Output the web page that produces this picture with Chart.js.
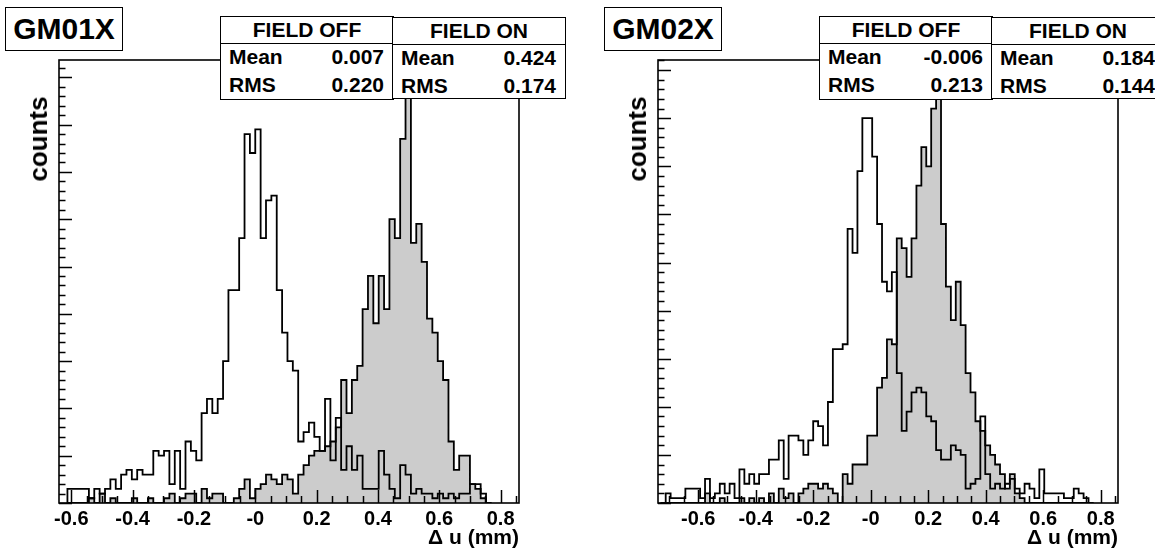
<!DOCTYPE html>
<html>
<head>
<meta charset="utf-8">
<script src="https://cdn.jsdelivr.net/npm/chart.js@4.4.1/dist/chart.umd.min.js"></script>
<style>
  body { margin: 0; width: 1155px; height: 551px; overflow: hidden; background: #fff; position: relative;
         font-family: "Liberation Sans", Arial, Helvetica, sans-serif; font-weight: bold; color: #000; }
  canvas { position: absolute; top: 0; }
  .title { position: absolute; box-sizing: border-box; border: 1.5px solid #000; background: #fff;
           font-size: 30px; line-height: 41px; text-align: center; }
  .stat { position: absolute; box-sizing: border-box; border: 1.5px solid #000; background: #fff; font-size: 21px; }
  .stat .hd { position: absolute; left: 0; right: 0; top: 0; height: 26px; border-bottom: 1.5px solid #000;
              text-align: center; line-height: 26px; }
  .stat .lab { position: absolute; left: 8px; line-height: 24px; }
  .stat .val { position: absolute; right: 9px; line-height: 24px; }
  .ylab { position: absolute; font-size: 26px; line-height: 30px; white-space: nowrap;
          transform: translate(-50%, -50%) rotate(-90deg); }
</style>
</head>
<body>
<canvas id="gm01" width="599" height="551" style="left:0"></canvas>
<canvas id="gm02" width="556" height="551" style="left:599px"></canvas>
<div id="overlay"></div>
<script>
// x axis labels (ROOT prints the zero as "-0")
const xTickValues = [-0.6, -0.4, -0.2, 0, 0.2, 0.4, 0.6, 0.8];
const xTickLabels = ["-0.6", "-0.4", "-0.2", "-0", "0.2", "0.4", "0.6", "0.8"];

// GM01X: bins of 0.0175 mm starting at -0.6125
const gm01BinStart = -0.6125;
const gm01BinWidth = 0.0175;
const gm01FieldOff = [
  3, 3, 3, 3, 1, 3, 2, 3, 5, 3,
  6, 7, 5, 7, 6, 6, 11, 10, 11, 4,
  11, 3, 13, 11, 9, 19, 22, 19, 22, 30,
  45, 45, 56, 78, 74, 79, 56, 64, 65, 45,
  36, 30, 28, 13, 15, 17, 14, 11, 22, 9,
  18, 7, 12, 7, 10, 3, 3, 3, 11, 6,
  3, 1, 8, 6, 2, 3, 2, 2, 1, 2,
  1, 2, 1, 2, 2, 4, 4, 2, 0
];
const gm01FieldOn = [
  0, 0, 0, 0, 1, 0, 2, 0, 1, 0,
  0, 0, 1, 0, 0, 1, 0, 0, 1, 2,
  0, 1, 2, 2, 0, 3, 1, 2, 2, 0,
  0, 1, 3, 5, 1, 3, 4, 6, 5, 4,
  6, 5, 2, 6, 8, 10, 11, 11, 12, 13,
  16, 26, 19, 26, 29, 41, 48, 38, 48, 41,
  60, 56, 77, 100, 55, 59, 51, 39, 36, 30,
  26, 13, 7, 10, 10, 4, 3, 1, 0
];

// GM02X: bins of 0.0171 mm starting at -0.7303
const gm02BinStart = -0.7303;
const gm02BinWidth = 0.0171;
const gm02FieldOff = [
  0, 2, 1, 1, 1, 3, 3, 3, 1, 5,
  1, 2, 4, 2, 4, 1, 7, 4, 6, 4,
  6, 6, 9, 9, 13, 5, 14, 14, 13, 10,
  13, 17, 16, 12, 21, 32, 32, 33, 57, 52,
  69, 80, 80, 72, 58, 46, 44, 48, 27, 15,
  19, 23, 24, 23, 18, 17, 11, 9, 9, 12,
  11, 10, 3, 4, 5, 18, 6, 3, 4, 3,
  4, 5, 3, 2, 4, 3, 1, 7, 2, 2,
  2, 2, 1, 1, 3, 2, 1, 0
];
const gm02FieldOn = [
  0, 0, 0, 0, 0, 0, 0, 0, 0, 2,
  0, 0, 1, 0, 0, 0, 1, 0, 1, 0,
  1, 0, 2, 0, 3, 1, 2, 0, 2, 3,
  4, 4, 3, 4, 3, 2, 0, 6, 4, 8,
  8, 8, 14, 14, 24, 26, 34, 33, 55, 53,
  47, 55, 66, 74, 70, 82, 100, 58, 45, 38,
  46, 37, 27, 23, 17, 15, 12, 10, 8, 6,
  3, 6, 2, 1, 0, 0, 0, 0, 0, 0,
  0, 0, 0, 0, 0, 0, 0, 0
];

// stat box texts: [mean, rms]
const gm01StatsOff = ["0.007", "0.220"];
const gm01StatsOn = ["0.424", "0.174"];
const gm02StatsOff = ["-0.006", "0.213"];
const gm02StatsOn = ["0.184", "0.144"];

const FONT = '"Liberation Sans", Arial, Helvetica, sans-serif';

function histPoints(start, width, counts) {
  const pts = [{ x: start, y: 0 }];
  counts.forEach((c, i) => pts.push({ x: start + i * width, y: c }));
  pts.push({ x: start + counts.length * width, y: 0 });
  return pts;
}

// ROOT style frame with inward ticks
const frameTicks = {
  id: 'frameTicks',
  afterDatasetsDraw(chart) {
    const { ctx, chartArea: a, scales: { x, y } } = chart;
    ctx.save();
    ctx.strokeStyle = '#000';
    ctx.lineWidth = 1.5;
    ctx.beginPath();
    for (let i = Math.ceil(x.min / 0.05); i <= Math.floor(x.max / 0.05); i++) {
      const px = Math.round(x.getPixelForValue(i * 0.05)) + 0.5;
      const len = i % 4 === 0 ? 13 : 7;
      ctx.moveTo(px, a.bottom);
      ctx.lineTo(px, a.bottom - len);
    }
    for (let i = 0; i <= Math.floor(y.max / 2); i++) {
      const py = Math.round(y.getPixelForValue(i * 2)) + 0.5;
      const len = i % 5 === 0 ? 13 : 6.5;
      ctx.moveTo(a.left, py);
      ctx.lineTo(a.left + len, py);
    }
    ctx.stroke();
    ctx.lineWidth = 1.6;
    ctx.strokeRect(a.left, a.top, a.right - a.left, a.bottom - a.top);
    ctx.restore();
  }
};

function makePanel(id, start, width, off, on, xMin, xMax, yMax, padRight) {
  return new Chart(document.getElementById(id), {
    type: 'line',
    data: {
      datasets: [
        { label: 'FIELD OFF', data: histPoints(start, width, off), borderColor: '#000', borderWidth: 1.8,
          fill: false, stepped: 'before', pointRadius: 0 },
        { label: 'FIELD ON', data: histPoints(start, width, on), borderColor: '#000', borderWidth: 1.8,
          backgroundColor: '#cccccc', fill: 'origin', stepped: 'before', pointRadius: 0 }
      ]
    },
    options: {
      responsive: false,
      animation: false,
      events: [],
      layout: { padding: { left: 59, top: 60, right: padRight, bottom: 0 } },
      plugins: { legend: { display: false }, tooltip: { enabled: false } },
      scales: {
        x: {
          type: 'linear', min: xMin, max: xMax,
          grid: { display: false, drawTicks: false },
          border: { display: false },
          afterBuildTicks: s => { s.ticks = xTickValues.map(v => ({ value: v })); },
          afterFit: s => { s.height = 48; },
          ticks: { padding: 4, color: '#000', autoSkip: false, maxRotation: 0,
                   font: { family: FONT, size: 20, weight: 'bold' },
                   callback: (v, i) => xTickLabels[i] },
          title: { display: true, text: 'Δ u (mm)', align: 'end', color: '#000', padding: 0,
                   font: { family: FONT, size: 21, weight: 'bold' } }
        },
        y: { display: false, min: 0, max: yMax }
      }
    },
    plugins: [frameTicks]
  });
}

makePanel('gm01', gm01BinStart, gm01BinWidth, gm01FieldOff, gm01FieldOn, -0.64, 0.86, 93.66, 80);
makePanel('gm02', gm02BinStart, gm02BinWidth, gm02FieldOff, gm02FieldOn, -0.74, 0.86, 92.1, 37);

// boxes drawn on top of the frames, as in the ROOT canvas
function statBox(left, top, w, h, head, vals) {
  return '<div class="stat" style="left:' + left + 'px;top:' + top + 'px;width:' + w + 'px;height:' + h + 'px">' +
    '<div class="hd">' + head + '</div>' +
    '<div class="lab" style="top:28px">Mean</div><div class="val" style="top:28px">' + vals[0] + '</div>' +
    '<div class="lab" style="top:56px">RMS</div><div class="val" style="top:56px">' + vals[1] + '</div></div>';
}
function panelOverlay(dx, name, off, on) {
  return '<div class="title" style="left:' + (5 + dx) + 'px;top:7px;width:118px;height:44px">' + name + '</div>' +
    '<div class="ylab" style="left:' + (38 + dx) + 'px;top:139px">counts</div>' +
    statBox(220 + dx, 16, 174, 84, 'FIELD OFF', off) +
    statBox(392 + dx, 17, 174, 82, 'FIELD ON', on);
}
document.getElementById('overlay').innerHTML =
  panelOverlay(0, 'GM01X', gm01StatsOff, gm01StatsOn) +
  panelOverlay(599, 'GM02X', gm02StatsOff, gm02StatsOn);
</script>
</body>
</html>
